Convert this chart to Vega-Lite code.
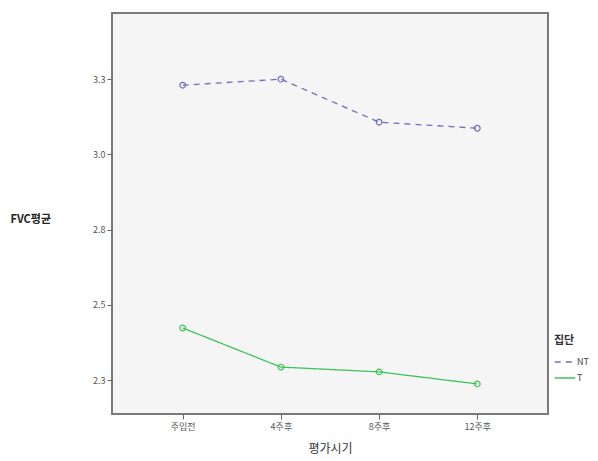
{
  "$schema": "https://vega.github.io/schema/vega-lite/v6.json",
  "width": 436,
  "height": 401,
  "autosize": {"type": "none"},
  "padding": {"left": 112, "top": 13, "right": 50, "bottom": 47},
  "background": "white",
  "config": {
    "font": "Noto Sans CJK KR",
    "view": {"fill": "#f5f5f5", "stroke": "#7a7a7a", "strokeWidth": 2},
    "axis": {"labelFont": "Noto Sans CJK KR", "titleFont": "Noto Sans CJK KR", "labelColor": "#555", "tickColor": "#666", "grid": false, "domain": false}
  },
  "data": {
    "values": [
      {"time": "주입전", "group": "NT", "fvc": 3.23},
      {"time": "4주후", "group": "NT", "fvc": 3.25},
      {"time": "8주후", "group": "NT", "fvc": 3.107},
      {"time": "12주후", "group": "NT", "fvc": 3.087},
      {"time": "주입전", "group": "T", "fvc": 2.423},
      {"time": "4주후", "group": "T", "fvc": 2.293},
      {"time": "8주후", "group": "T", "fvc": 2.277},
      {"time": "12주후", "group": "T", "fvc": 2.237}
    ]
  },
  "encoding": {
    "x": {
      "field": "time", "type": "ordinal", "sort": ["주입전", "4주후", "8주후", "12주후"],
      "scale": {"type": "point", "padding": 0.72},
      "axis": {"title": "평가시기", "labelAngle": 0, "labelFontSize": 9, "tickSize": 5, "labelPadding": 3, "titleFontSize": 12, "titleColor": "#333", "titleFontWeight": "normal", "titlePadding": 12}
    },
    "y": {
      "field": "fvc", "type": "quantitative",
      "scale": {"domain": [2.137, 3.47], "nice": false, "zero": false},
      "axis": {"title": "FVC평균", "values": [2.25, 2.5, 2.75, 3.0, 3.25], "format": ".1f", "labelFontSize": 9, "tickSize": 5, "labelPadding": 2,
        "titleAngle": 0, "titleAlign": "left", "titleBaseline": "middle", "titleX": -102, "titleY": 206, "titleFontSize": 11, "titleFontWeight": "bold", "titleColor": "#222"}
    },
    "color": {
      "field": "group", "type": "nominal",
      "scale": {"domain": ["NT", "T"], "range": ["#6e6ebe", "#3ec45a"]},
      "legend": {"title": "집단", "orient": "none", "legendX": 442, "legendY": 322, "symbolType": "stroke", "symbolSize": 420, "symbolStrokeWidth": 1.5, "labelFontSize": 9, "labelColor": "#444", "titleFontSize": 11, "titleFontWeight": "bold", "titleColor": "#333", "rowPadding": 0, "labelOffset": 1, "titlePadding": 5}
    }
  },
  "layer": [
    {
      "mark": {"type": "line", "strokeWidth": 1.3},
      "encoding": {
        "strokeDash": {"field": "group", "type": "nominal", "scale": {"domain": ["NT", "T"], "range": [[6, 5], [1, 0]]}, "legend": {"title": "집단"}}
      }
    },
    {
      "mark": {"type": "point", "filled": false, "size": 32, "strokeWidth": 1.2, "opacity": 1},
      "encoding": {"color": {"field": "group", "type": "nominal", "legend": null}}
    }
  ]
}
